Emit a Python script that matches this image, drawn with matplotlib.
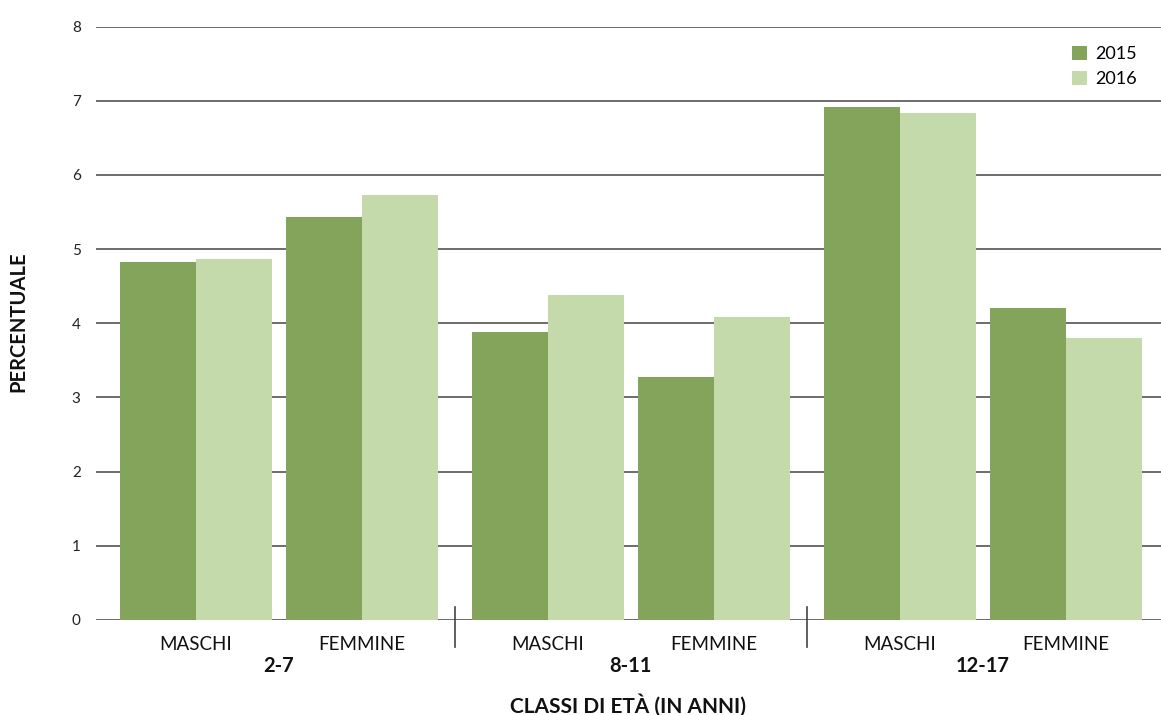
import matplotlib.pyplot as plt
import matplotlib.transforms as mtransforms
import numpy as np

plt.rcParams['font.family'] = ['Lato', 'DejaVu Sans']

# percentuali per classe di eta' e sesso
classi = ['2-7', '8-11', '12-17']
sessi = ['MASCHI', 'FEMMINE']
anni = ['2015', '2016']
v2015 = [4.83, 5.43, 3.88, 3.28, 6.92, 4.21]
v2016 = [4.87, 5.73, 4.38, 4.09, 6.84, 3.80]

col2015 = '#84A35B'
col2016 = '#C4DAAB'
grid_col = '#6b6b6b'

gap = 0.12
w = 0.458
idx = np.arange(len(v2015))
pos = idx + gap * (idx // 2)

fig = plt.figure(figsize=(11.61, 7.15), dpi=100)
ax = fig.add_axes([96 / 1161, 0.1329, 1065 / 1161, 0.8298])

ax.bar(pos - w / 2, v2015, w, color=col2015, label=anni[0], zorder=2)
ax.bar(pos + w / 2, v2016, w, color=col2016, label=anni[1], zorder=2)

ax.set_xlim(-0.602, 5.813)
ax.set_ylim(0, 8)
ax.set_yticks(range(0, 9))
ax.yaxis.grid(True, color=grid_col, linewidth=1.4, zorder=0)
ax.set_axisbelow(True)
for s in ax.spines.values():
    s.set_visible(False)
ax.tick_params(axis='y', length=0, pad=11, labelsize=11, labelcolor='#222222')
ax.set_xticks([])

# etichette di sesso e classe sotto l'asse
trans = mtransforms.blended_transform_factory(ax.transData, ax.transAxes)
for i, p in enumerate(pos):
    ax.text(p, -0.042, sessi[i % 2], transform=trans, ha='center', va='center',
            fontsize=13.5, color='#111111')
for g, name in enumerate(classi):
    c = (pos[2 * g] + pos[2 * g + 1]) / 2
    ax.text(c, -0.078, name, transform=trans, ha='center', va='center',
            fontsize=14.5, fontweight='bold', color='#111111')

# separatori tra le classi
for g in range(1, len(classi)):
    xd = (pos[2 * g - 1] + pos[2 * g]) / 2
    ax.plot([xd, xd], [0.022, -0.0455], transform=trans, color='#444444',
            linewidth=1.2, clip_on=False)

ax.text(0.5, -0.1435, 'CLASSI DI ETÀ (IN ANNI)', transform=ax.transAxes,
        ha='center', va='center', fontsize=15, fontweight='bold', color='#111111')
fig.text(18 / 1161, 1 - 322 / 715, 'PERCENTUALE', rotation=90, ha='center',
         va='center', fontsize=14.5, fontweight='bold', color='#111111')

leg = ax.legend(loc='upper right', bbox_to_anchor=(0.9775, 0.9675), frameon=False,
                fontsize=13, handlelength=0.85, handleheight=0.85, handletextpad=0.45,
                labelspacing=0.45, borderpad=0, borderaxespad=0)

fig.savefig('out.png', dpi=100)
